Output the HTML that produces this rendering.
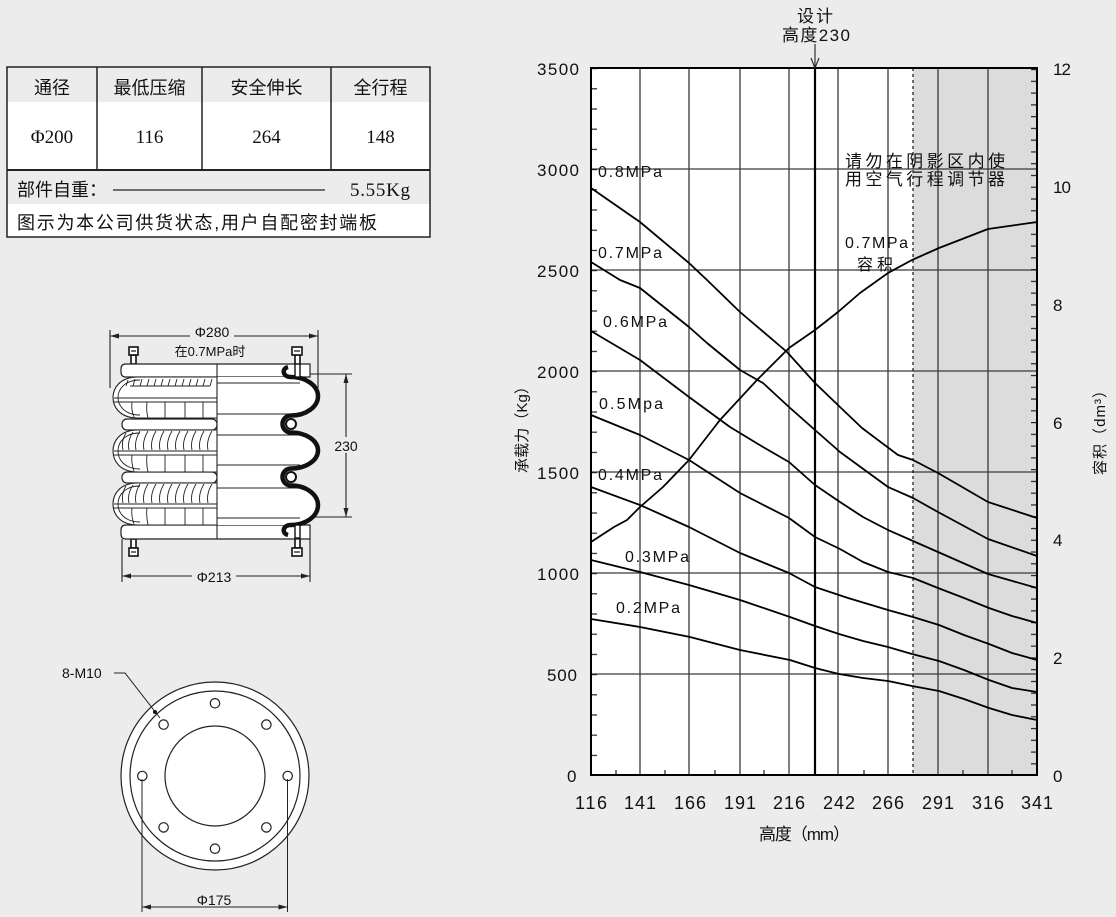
<!DOCTYPE html>
<html><head><meta charset="utf-8"><style>
html,body{margin:0;padding:0;background:#ececec;width:1116px;height:917px;overflow:hidden}
svg{display:block}
.s{font-family:"Liberation Sans","Noto Sans CJK SC",sans-serif;fill:#111}
.r{font-family:"Liberation Serif","Noto Serif CJK SC",serif;fill:#111}
</style></head><body>
<svg width="1116" height="917" viewBox="0 0 1116 917" xmlns="http://www.w3.org/2000/svg">
<defs>
<pattern id="lt" patternUnits="userSpaceOnUse" x="591" y="775" width="8" height="20.2"><rect x="0" y="0" width="6" height="1.2" fill="#222"/></pattern>
<pattern id="rt" patternUnits="userSpaceOnUse" x="1031" y="775" width="8" height="11.767"><rect x="0" y="0" width="6" height="1.2" fill="#222"/></pattern>
</defs>
<rect x="0" y="0" width="1116" height="917" fill="#ececec"/>

<!-- TABLE -->
<rect x="7" y="67" width="423" height="170" fill="#fff"/>
<rect x="7" y="67" width="423" height="35" fill="#ececec"/>
<rect x="7" y="170" width="423" height="34" fill="#ececec"/>
<g stroke="#222" stroke-width="1.5" fill="none">
<rect x="7" y="67" width="423" height="170"/>
<line x1="97" y1="67" x2="97" y2="170"/>
<line x1="202" y1="67" x2="202" y2="170"/>
<line x1="331" y1="67" x2="331" y2="170"/>
<line x1="7" y1="170" x2="430" y2="170" stroke-width="2"/>
</g>
<g class="s" font-size="18" text-anchor="middle">
<text x="52" y="94">通径</text>
<text x="149.5" y="94">最低压缩</text>
<text x="266.5" y="94">安全伸长</text>
<text x="380.5" y="94">全行程</text>
</g>
<g class="r" font-size="19" text-anchor="middle">
<text x="52" y="143">Φ200</text>
<text x="149.5" y="143">116</text>
<text x="266.5" y="143">264</text>
<text x="380.5" y="143">148</text>
</g>
<text class="s" x="17" y="196" font-size="18">部件自重：</text>
<line x1="113" y1="190" x2="325" y2="190" stroke="#222" stroke-width="1.2"/>
<text class="r" x="350" y="196" font-size="19" textLength="60">5.55Kg</text>
<text class="s" x="17" y="229" font-size="18" textLength="360">图示为本公司供货状态,用户自配密封端板</text>

<!-- BELLOWS -->
<g stroke="#222" stroke-width="1.1" fill="none">
<line x1="110" y1="330" x2="110" y2="388"/>
<line x1="318" y1="330" x2="318" y2="388"/>
<line x1="110" y1="336" x2="318" y2="336"/>
<line x1="122" y1="539" x2="122" y2="582"/>
<line x1="310" y1="539" x2="310" y2="582"/>
<line x1="122" y1="576" x2="310" y2="576"/>
<line x1="308" y1="374" x2="352" y2="374"/>
<line x1="305" y1="517" x2="352" y2="517"/>
<line x1="346" y1="374" x2="346" y2="517"/>
</g>
<g fill="#222">
<polygon points="110,336 119,333.5 119,338.5"/>
<polygon points="318,336 309,333.5 309,338.5"/>
<polygon points="122,576 131,573.5 131,578.5"/>
<polygon points="310,576 301,573.5 301,578.5"/>
<polygon points="346,374 343.5,383 348.5,383"/>
<polygon points="346,517 343.5,508 348.5,508"/>
</g>
<rect x="190" y="326" width="44" height="13" fill="#ececec"/>
<text class="s" x="212" y="337" font-size="14" text-anchor="middle">Φ280</text>
<text class="s" x="210" y="356" font-size="13" text-anchor="middle">在0.7MPa时</text>
<rect x="192" y="567" width="44" height="14" fill="#ececec"/>
<text class="s" x="214" y="582" font-size="14" text-anchor="middle">Φ213</text>
<rect x="333" y="437" width="26" height="16" fill="#ececec"/>
<text class="s" x="346" y="451" font-size="14" text-anchor="middle">230</text>

<!-- bolts -->
<g stroke="#111" stroke-width="1.6" fill="#fff">
<rect x="131" y="355" width="5" height="9"/>
<rect x="129" y="347" width="9" height="8"/>
<rect x="295" y="355" width="5" height="12"/>
<rect x="292" y="347" width="10" height="8"/>
<rect x="131" y="539" width="5" height="9"/>
<rect x="129" y="548" width="9" height="8"/>
<rect x="295" y="536" width="5" height="12"/>
<rect x="292" y="548" width="10" height="8"/>
</g>
<g stroke="#111" stroke-width="1.2">
<line x1="131" y1="351" x2="136" y2="351"/><line x1="294" y1="351" x2="300" y2="351"/>
<line x1="131" y1="552" x2="136" y2="552"/><line x1="294" y1="552" x2="300" y2="552"/>
</g>

<!-- plates -->
<g stroke="#222" stroke-width="1.2" fill="#fff">
<path d="M126,364 L310,364 L310,377 L126,377 Q121,377 121,372 L121,369 Q121,364 126,364 Z"/>
<path d="M126,525 L310,525 L310,539 L126,539 Q121,539 121,534 L121,530 Q121,525 126,525 Z"/>
<rect x="122" y="419" width="95" height="11" rx="5"/>
<rect x="122" y="472" width="95" height="11" rx="5"/>
</g>

<!-- right half white body -->
<path d="M217,377 L291,377 A27 19.25 0 0 1 291,415.5 A8.5 8.5 0 0 0 291,432.5 A27 18 0 0 1 291,468.5 A8.5 8.5 0 0 0 291,485.5 A27 19.75 0 0 1 291,525 L217,525 Z" fill="#fff" stroke="none"/>
<g stroke="#222" stroke-width="1.1">
<line x1="217" y1="383" x2="300" y2="383"/>
<line x1="217" y1="414" x2="300" y2="414"/>
<line x1="217" y1="435" x2="300" y2="435"/>
<line x1="217" y1="465" x2="300" y2="465"/>
<line x1="217" y1="488" x2="300" y2="488"/>
<line x1="217" y1="518" x2="300" y2="518"/>
</g>

<!-- left bulges -->
<g stroke="#222" stroke-width="1.1" fill="#fff">
<path d="M217,377 L138,377 C119,377 113,389 113,397.5 C113,406 119,418 138,418 L217,418"/>
<path d="M217,430 L138,430 C119,430 113,442 113,451 C113,460 119,472 138,472 L217,472"/>
<path d="M217,483 L138,483 C119,483 113,495 113,504 C113,513 119,525 138,525 L217,525"/>
</g>
<g stroke="#222" stroke-width="0.9" fill="none">
<path d="M140,380 C124,380 118,390 118,397.5 C118,405 124,415 140,415"/>
<path d="M140,433 C124,433 118,443 118,451 C118,459 124,469 140,469"/>
<path d="M140,486 C124,486 118,496 118,504 C118,512 124,522 140,522"/>
<line x1="114" y1="398" x2="217" y2="398"/><line x1="114" y1="402" x2="217" y2="402"/>
<line x1="114" y1="451" x2="217" y2="451"/><line x1="114" y1="455" x2="217" y2="455"/>
<line x1="114" y1="504" x2="217" y2="504"/><line x1="114" y1="508" x2="217" y2="508"/>
<path d="M132,402 Q131,410 134,417 M147,402 Q146,410 148,418 M165,402 L165,418 M185,402 L185,418 M203,402 L203,418"/>
<path d="M132,455 Q131,463 134,471 M147,455 Q146,463 148,472 M165,455 L165,472 M185,455 L185,472 M203,455 L203,472"/>
<path d="M132,508 Q131,516 134,524 M147,508 Q146,516 148,525 M165,508 L165,525 M185,508 L185,525 M203,508 L203,525"/>
<path d="M128,380 L126,386 M135,379 L133,386 M142,379 L140,386 M149,379 L147,386 M156,379 L154,386 M163,379 L161,386 M170,379 L168,386 M177,379 L175,386 M184,379 L182,386 M191,379 L189,386 M198,379 L196,386 M205,379 L203,386 M212,379 L210,386"/>
<path d="M130,386 L210,386"/>
<path d="M126,433 Q121,441 123,450 M133,432 Q127,441 129,450 M140,431 Q134,441 136,450 M148,431 Q142,441 144,450 M156,431 Q150,441 152,450 M164,431 Q158,441 160,450 M172,431 Q166,441 168,450 M180,431 Q174,441 176,450 M188,431 Q182,441 184,450 M196,431 Q190,441 192,450 M204,431 Q198,441 200,450 M212,431 Q206,441 208,450"/>
<path d="M126,486 Q121,494 123,503 M133,485 Q127,494 129,503 M140,484 Q134,494 136,503 M148,484 Q142,494 144,503 M156,484 Q150,494 152,503 M164,484 Q158,494 160,503 M172,484 Q166,494 168,503 M180,484 Q174,494 176,503 M188,484 Q182,494 184,503 M196,484 Q190,494 192,503 M204,484 Q198,494 200,503 M212,484 Q206,494 208,503"/>
</g>
<line x1="217" y1="364" x2="217" y2="539" stroke="#222" stroke-width="1.1"/>

<!-- rubber profile -->
<path d="M288,367 C281,369 283,377 291,377 A27 19.25 0 0 1 291,415.5 A8.5 8.5 0 0 0 291,432.5 A27 18 0 0 1 291,468.5 A8.5 8.5 0 0 0 291,485.5 A27 19.75 0 0 1 291,525 C283,525 281,533 288,535" fill="none" stroke="#111" stroke-width="4.5"/>
<circle cx="291" cy="424" r="5" fill="#fff" stroke="#111" stroke-width="2"/>
<circle cx="291" cy="477" r="5" fill="#fff" stroke="#111" stroke-width="2"/>
<g stroke="#111" stroke-width="1.4" fill="#fff">
<rect x="295" y="364" width="5" height="13"/>
<rect x="295" y="525" width="5" height="13"/>
</g>

<!-- CIRCLE VIEW -->
<g stroke="#222" stroke-width="1.2">
<circle cx="215" cy="776" r="94" fill="#fff"/>
<circle cx="215" cy="776" r="85" fill="none"/>
<circle cx="215" cy="776" r="50" fill="none"/>
<g fill="#fff">
<circle cx="215" cy="703.3" r="4.7"/>
<circle cx="215" cy="848.7" r="4.7"/>
<circle cx="142.3" cy="776" r="4.7"/>
<circle cx="287.7" cy="776" r="4.7"/>
<circle cx="163.6" cy="724.6" r="4.7"/>
<circle cx="266.4" cy="724.6" r="4.7"/>
<circle cx="163.6" cy="827.4" r="4.7"/>
<circle cx="266.4" cy="827.4" r="4.7"/>
</g>
</g>
<g stroke="#222" stroke-width="1" fill="none">
<polyline points="114,673 125,673 160,718"/>
<line x1="142" y1="779" x2="142" y2="912"/>
<line x1="287.5" y1="779" x2="287.5" y2="912"/>
<line x1="142" y1="907" x2="287.5" y2="907"/>
</g>
<circle cx="155" cy="712" r="2" fill="#111"/>
<polygon points="142,907 151,904.5 151,909.5" fill="#222"/>
<polygon points="287.5,907 278.5,904.5 278.5,909.5" fill="#222"/>
<text class="s" x="62" y="678" font-size="14">8-M10</text>
<text class="s" x="214" y="905" font-size="14" text-anchor="middle">Φ175</text>

<!-- CHART -->
<rect x="591" y="68" width="446" height="707" fill="#fff"/>
<rect x="913" y="68" width="124" height="707" fill="#dcdcdc"/>
<g stroke="#3a3a3a" stroke-width="1.3">
<line x1="640" y1="68" x2="640" y2="775"/>
<line x1="689" y1="68" x2="689" y2="775"/>
<line x1="740" y1="68" x2="740" y2="775"/>
<line x1="789" y1="68" x2="789" y2="775"/>
<line x1="838" y1="68" x2="838" y2="775"/>
<line x1="888" y1="68" x2="888" y2="775"/>
<line x1="938" y1="68" x2="938" y2="775"/>
<line x1="988" y1="68" x2="988" y2="775"/>
<line x1="591" y1="169" x2="1037" y2="169"/>
<line x1="591" y1="270" x2="1037" y2="270"/>
<line x1="591" y1="371" x2="1037" y2="371"/>
<line x1="591" y1="472" x2="1037" y2="472"/>
<line x1="591" y1="573" x2="1037" y2="573"/>
<line x1="591" y1="674" x2="1037" y2="674"/>
</g>
<line x1="913" y1="68" x2="913" y2="775" stroke="#111" stroke-width="1.2" stroke-dasharray="3,3"/>
<line x1="815" y1="68" x2="815" y2="775" stroke="#000" stroke-width="2.2"/>
<rect x="591" y="68" width="6" height="707" fill="url(#lt)"/>
<rect x="1031" y="68" width="6" height="707" fill="url(#rt)"/>
<g stroke="#222" stroke-width="1.2">
<line x1="616" y1="775" x2="616" y2="770"/>
<line x1="665" y1="775" x2="665" y2="770"/>
<line x1="715" y1="775" x2="715" y2="770"/>
<line x1="764" y1="775" x2="764" y2="770"/>
<line x1="864" y1="775" x2="864" y2="770"/>
<line x1="963" y1="775" x2="963" y2="770"/>
<line x1="1012" y1="775" x2="1012" y2="770"/>
</g>
<rect x="591" y="68" width="446" height="707" fill="none" stroke="#000" stroke-width="2"/>

<g fill="none" stroke="#000" stroke-width="1.8" stroke-linejoin="round">
<polyline points="591,188 640,222 689,263 707,280 740,312 787,352 815,383 840,407 862,428 898,455 913,460 938,473 988,502 1037,518"/>
<polyline points="591,262 620,280 640,288 689,327 707,343 740,370 763,383 789,407 815,430 840,452 888,487 913,498 938,512 988,539 1037,556"/>
<polyline points="591,331 640,360 689,397 730,427 763,447 789,462 815,485 840,502 863,517 888,530 913,541 938,552 988,574 1037,588"/>
<polyline points="591,415 640,435 689,460 740,493 789,518 815,537 840,549 863,562 888,572 913,578 938,588 964,598 989,608 1012,616 1037,623"/>
<polyline points="591,487 640,505 689,527 740,553 789,573 815,587 848,598 888,610 913,617 939,625 964,635 989,644 1012,653 1037,660"/>
<polyline points="591,560 640,572 689,585 740,600 790,617 815,626 839,634 863,641 888,647 912,654 939,661 964,670 989,680 1012,688 1037,692"/>
<polyline points="591,619 640,627 690,637 713,643 740,650 790,660 815,668 839,674 863,678 888,681 912,686 939,691 964,699 989,708 1012,715 1037,720"/>
<polyline points="591,542 614,527 627,520 640,507 663,487 689,460 720,420 757,380 789,348 815,330 838,312 860,293 888,273 912,260 939,248 988,229 1037,222"/>
</g>

<g class="s" font-size="16">
<text x="598" y="177" textLength="64">0.8MPa</text>
<text x="598" y="258" textLength="64">0.7MPa</text>
<text x="603" y="327" textLength="64">0.6MPa</text>
<text x="599" y="409" textLength="64">0.5Mpa</text>
<text x="598" y="480" textLength="64">0.4MPa</text>
<text x="625" y="562" textLength="64">0.3MPa</text>
<text x="616" y="613" textLength="64">0.2MPa</text>
<text x="845" y="248" textLength="63">0.7MPa</text>
</g>
<text class="s" x="857" y="270" font-size="16" textLength="36">容积</text>
<text class="s" x="845" y="167" font-size="17" textLength="160">请勿在阴影区内使</text>
<text class="s" x="845" y="185" font-size="17" textLength="160">用空气行程调节器</text>

<text class="s" x="797" y="22" font-size="17" textLength="36">设计</text>
<text class="s" x="782" y="41" font-size="17" textLength="68">高度230</text>
<g stroke="#222" stroke-width="1.1" fill="none">
<line x1="815" y1="44" x2="815" y2="68"/>
<polyline points="811,58 815,68 819,58"/>
</g>

<g class="s" font-size="17">
<text x="537" y="75" textLength="42">3500</text>
<text x="537" y="176" textLength="42">3000</text>
<text x="537" y="277" textLength="42">2500</text>
<text x="537" y="378" textLength="42">2000</text>
<text x="537" y="479" textLength="42">1500</text>
<text x="537" y="580" textLength="42">1000</text>
<text x="547" y="681" textLength="30">500</text>
<text x="567" y="782">0</text>
<text x="1053" y="75" textLength="18">12</text>
<text x="1053" y="193" textLength="18">10</text>
<text x="1053" y="311">8</text>
<text x="1053" y="429">6</text>
<text x="1053" y="546">4</text>
<text x="1053" y="664">2</text>
<text x="1053" y="782">0</text>
</g>
<g class="s" font-size="18">
<text x="575" y="809" textLength="32">116</text>
<text x="624" y="809" textLength="32">141</text>
<text x="674" y="809" textLength="32">166</text>
<text x="724" y="809" textLength="32">191</text>
<text x="773" y="809" textLength="32">216</text>
<text x="823" y="809" textLength="32">242</text>
<text x="872" y="809" textLength="32">266</text>
<text x="922" y="809" textLength="32">291</text>
<text x="972" y="809" textLength="32">316</text>
<text x="1021" y="809" textLength="32">341</text>
</g>
<text class="s" x="759" y="840" font-size="17" textLength="91">高度（mm）</text>
<text class="s" transform="translate(527,426) rotate(-90)" x="0" y="0" font-size="15" text-anchor="middle" textLength="94">承载力（Kg）</text>
<text class="s" transform="translate(1105,429) rotate(-90)" x="0" y="0" font-size="15" text-anchor="middle" textLength="92">容积（dm³）</text>
</svg>
</body></html>
